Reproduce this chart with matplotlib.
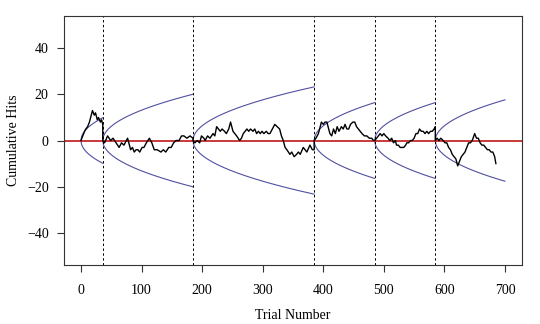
import matplotlib
matplotlib.use("Agg")
import matplotlib.pyplot as plt
import numpy as np

plt.rcParams['font.family'] = ['Liberation Serif', 'DejaVu Serif']

# segment starts (where the walk resets) and end of the last boundary curve
seg_starts = [0, 36, 185, 385, 485, 585]
seg_end = 700
z_bound = 1.645

# cumulative hits (trial, value)
walk_x = [0, 3, 6, 8, 11, 14, 19, 22, 24, 27, 29, 32, 34, 36,
          36, 39, 44, 49, 53, 58, 63, 67, 71, 77, 82, 85, 88, 91, 94, 97, 101, 104, 108, 113,
          117, 121, 126, 132, 136, 140, 145, 149, 153, 157, 162, 166, 170, 175, 180, 185,
          185, 188, 192, 196, 199, 203, 205, 209, 213, 218, 221, 224, 227, 230, 233, 237, 240,
          244, 247, 251, 254, 257, 262, 265, 268, 271, 274, 277, 280, 284, 287, 290, 293, 296,
          299, 302, 306, 309, 312, 316, 320, 324, 328, 331, 334, 337, 340, 345, 348, 352, 356,
          359, 362, 367, 370, 373, 378, 382, 385,
          385, 388, 392, 397, 400, 403, 406, 408, 411, 414, 417, 420, 423, 426, 430, 433, 436,
          439, 442, 445, 449, 452, 455, 458, 461, 464, 468, 472, 476, 480, 483, 485,
          485, 488, 491, 494, 497, 500, 503, 507, 510, 513, 516, 519, 521, 524, 527, 530, 533,
          536, 538, 541, 544, 547, 550, 553, 556, 559, 562, 565, 568, 571, 574, 577, 580, 583, 585,
          585, 588, 591, 594, 598, 601, 604, 607, 610, 613, 616, 619, 622, 625, 628, 631, 634,
          637, 640, 643, 646, 650, 653, 656, 659, 662, 665, 668, 671, 674, 677, 680, 683, 685]
walk_y = [0, 2, 4, 5, 6, 8, 13, 11, 12, 9, 10, 8, 9, 7,
          0, -1, 2, 0, 1, -1, -3, -1, -2, 1, -4, -3, -5, -4, -4, -5, -3, -3, -1, 1,
          -1, -4, -4, -5, -4, -5, -3, -3, -1, 0, 0, 2, 2, 1, 2, 1,
          0, -1, 0, -1, 2, 1, 0, 2, 1, 3, 2, 6, 5, 4, 5, 4, 3,
          5, 8, 4, 3, 2, 0, 1, 3, 4, 5, 4, 5, 4, 5, 3, 4, 3,
          4, 3, 4, 3, 3, 5, 7, 6, 5, 2, 0, -3, -4, -6, -5, -7, -6,
          -5, -6, -3, -4, -5, -2, -4, -4,
          0, 1, 3, 8, 7, 8, 8, 6, 3, 2, 5, 3, 6, 4, 6, 5, 7,
          5, 5, 7, 8, 8, 6, 5, 4, 3, 2, 2, 1, 1, 0, 0,
          0, 1, 2, 3, 2, 3, 2, 1, 0, 1, -1, 0, -2, -2, -3, -3, -3,
          -2, -1, -1, 0, 0, 1, 3, 3, 5, 4, 4, 3, 4, 3, 4, 4, 5, 6,
          0, 1, 0, 1, 0, -1, -1, -3, -4, -6, -7, -8, -11, -9, -7, -6, -5,
          -3, -1, -1, 0, 3, 1, 1, -1, -2, -2, -3, -4, -4, -5, -5, -7, -10]

fig = plt.figure(figsize=(5.4, 3.24), dpi=100)
ax = fig.add_axes([0.1185, 0.182, 0.848, 0.7686])

ends = seg_starts[1:] + [seg_end]
for s, e in zip(seg_starts, ends):
    t = np.arange(s, e + 1)
    b = z_bound * np.sqrt(t - s)
    ax.plot(t, b, color='#5050a0', lw=0.8)
    ax.plot(t, -b, color='#5050a0', lw=0.8)

for s in seg_starts[1:]:
    ax.axvline(s, color='black', lw=0.7, ls=(0, (2.5, 2.5)))

ax.axhline(0, color='#c01818', lw=1.2)
ax.plot(walk_x, walk_y, color='black', lw=1.0)

ax.set_xlim(-28, 728)
ax.set_ylim(-54, 54)
ax.set_xticks(range(0, 701, 100))
ax.set_yticks([-40, -20, 0, 20, 40])
ax.set_yticklabels(['\u221240', '\u221220', '0', '20', '40'])
ax.tick_params(direction='out', length=5, width=0.8, labelsize=10, pad=6,
               color='#333333')
ax.tick_params(axis='x', pad=9)
for sp in ax.spines.values():
    sp.set_linewidth(0.8)
    sp.set_color('#333333')
ax.set_xlabel('Trial Number', fontsize=10, labelpad=8)
ax.set_ylabel('Cumulative Hits', fontsize=10, labelpad=5)

fig.savefig('out.png', dpi=100)
